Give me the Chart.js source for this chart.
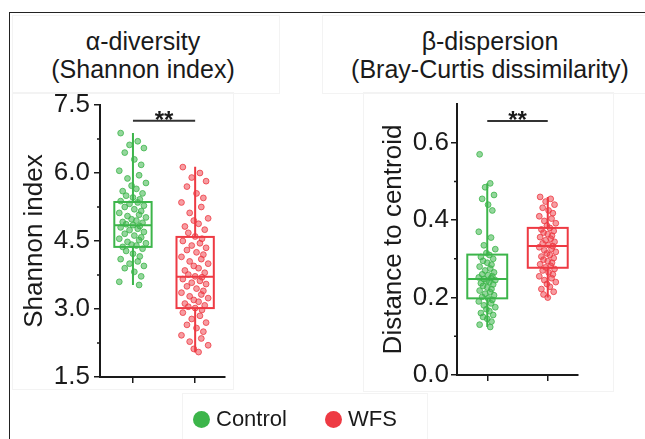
<!DOCTYPE html>
<html>
<head>
<meta charset="utf-8">
<script src="https://cdn.jsdelivr.net/npm/chart.js@4.4.1/dist/chart.umd.min.js"></script>
<style>
  body { margin: 0; background: #fff; font-family: "Liberation Sans", Arial, sans-serif; color: #1a1a1a; }
  #page { position: relative; width: 645px; height: 439px; overflow: hidden; background: #fff; }
  .frame { position: absolute; left: 9px; top: 12px; right: -2px; bottom: -2px; border-left: 1.5px solid #222; border-top: 1.5px solid #222; }
  .faint { position: absolute; border: 1px solid #f3f3f3; }
  .title { position: absolute; width: 320px; text-align: center; font-size: 25px; line-height: 28px; color: #1a1a1a; }
  canvas { position: absolute; left: 0; top: 0; }
  #legend { position: absolute; top: 406px; left: 193px; font-size: 22px; line-height: 26px; color: #1a1a1a; }
  #legend span.item { display: inline-block; margin-right: 38px; }
  #legend span.dot { display: inline-block; width: 17px; height: 17px; border-radius: 50%; vertical-align: -2px; margin-right: 6px; }
</style>
</head>
<body>
<div id="page">
  <div class="frame"></div>
  <div class="faint" style="left:12px;top:15px;width:266px;height:77px"></div>
  <div class="faint" style="left:12px;top:92px;width:220px;height:296px"></div>
  <div class="faint" style="left:322px;top:15px;width:330px;height:77px"></div>
  <div class="faint" style="left:363px;top:92px;width:249px;height:298px"></div>
  <div class="faint" style="left:182px;top:393px;width:244px;height:60px"></div>

  <div class="title" style="left:-17px;top:27px">α-diversity<br>(Shannon index)</div>
  <div class="title" style="left:330px;top:27px">β-dispersion<br>(Bray-Curtis dissimilarity)</div>

  <canvas id="alphaChart" width="645" height="439"></canvas>
  <canvas id="betaChart" width="645" height="439"></canvas>
  <div id="legend"></div>
</div>

<script>
  // Groups and colours
  const GROUPS = ['Control', 'WFS'];
  const GROUP_COLORS = ['#3cb54a', '#ee3a43'];
  const POINT_FILLS = ['rgba(60,181,74,0.55)', 'rgba(238,58,67,0.5)'];

  // Shannon index panel (alpha diversity)
  const SHANNON_TICKS = [1.5, 3.0, 4.5, 6.0, 7.5];
  const SHANNON_MINOR = [2.25, 3.75, 5.25, 6.75];
  const SHANNON_LOW = [3.53, 2.04];
  const SHANNON_Q1 = [4.37, 3.02];
  const SHANNON_MEDIAN = [4.85, 3.71];
  const SHANNON_Q3 = [5.36, 4.59];
  const SHANNON_HIGH = [6.88, 6.14];
  const SHANNON_SIG = 7.15;
  const SHANNON_CONTROL = [6.88, 6.7, 6.62, 6.55, 6.45, 6.3, 6.18, 6.05, 5.95, 5.88, 5.78, 5.72, 5.65, 5.6,
    5.55, 5.5, 5.46, 5.42, 5.38, 5.35, 5.32, 5.28, 5.25, 5.2, 5.16, 5.12, 5.08, 5.05, 5.02, 4.98, 4.95,
    4.92, 4.9, 4.87, 4.85, 4.83, 4.8, 4.77, 4.74, 4.7, 4.66, 4.62, 4.58, 4.55, 4.52, 4.48, 4.45, 4.42,
    4.4, 4.37, 4.33, 4.28, 4.22, 4.16, 4.1, 4.05, 4.0, 3.95, 3.9, 3.82, 3.72, 3.6, 3.53];
  const SHANNON_WFS = [6.13, 6.0, 5.9, 5.82, 5.7, 5.55, 5.45, 5.35, 5.25, 5.12, 5.0, 4.95, 4.88, 4.82,
    4.75, 4.68, 4.6, 4.55, 4.5, 4.45, 4.4, 4.35, 4.3, 4.25, 4.2, 4.15, 4.1, 4.05, 4.0, 3.95, 3.9, 3.85,
    3.8, 3.76, 3.72, 3.7, 3.66, 3.62, 3.58, 3.55, 3.5, 3.45, 3.4, 3.36, 3.32, 3.28, 3.24, 3.2, 3.16,
    3.12, 3.08, 3.05, 3.02, 2.98, 2.92, 2.85, 2.78, 2.7, 2.65, 2.58, 2.5, 2.42, 2.35, 2.28, 2.2, 2.12, 2.05];

  // Distance to centroid panel (beta dispersion)
  const DIST_TICKS = [0.0, 0.2, 0.4, 0.6];
  const DIST_MINOR = [0.1, 0.3, 0.5];
  const DIST_LOW = [0.124, 0.2];
  const DIST_Q1 = [0.198, 0.277];
  const DIST_MEDIAN = [0.248, 0.333];
  const DIST_Q3 = [0.311, 0.38];
  const DIST_HIGH = [0.495, 0.46];
  const DIST_SIG = 0.656;
  const DIST_CONTROL = [0.57, 0.495, 0.485, 0.465, 0.455, 0.44, 0.425, 0.37, 0.355, 0.335, 0.325, 0.315,
    0.31, 0.305, 0.3, 0.295, 0.29, 0.285, 0.28, 0.275, 0.27, 0.265, 0.26, 0.258, 0.255, 0.252, 0.25,
    0.248, 0.245, 0.242, 0.24, 0.237, 0.234, 0.23, 0.226, 0.222, 0.218, 0.214, 0.21, 0.206, 0.202,
    0.198, 0.194, 0.19, 0.185, 0.18, 0.175, 0.17, 0.165, 0.16, 0.155, 0.15, 0.145, 0.138, 0.13, 0.124];
  const DIST_WFS = [0.46, 0.455, 0.448, 0.44, 0.432, 0.425, 0.418, 0.41, 0.404, 0.398, 0.392, 0.386,
    0.38, 0.376, 0.372, 0.368, 0.364, 0.36, 0.356, 0.352, 0.348, 0.344, 0.34, 0.336, 0.333, 0.33,
    0.326, 0.322, 0.318, 0.314, 0.31, 0.306, 0.302, 0.298, 0.294, 0.29, 0.286, 0.282, 0.278, 0.274,
    0.27, 0.265, 0.26, 0.255, 0.25, 0.245, 0.24, 0.235, 0.228, 0.222, 0.215, 0.208, 0.2];

  // Horizontal spread of the dots around each group (a fixed pattern, not data)
  const JITTER = [-0.18, 0.07, -0.05, 0.16, -0.12, 0.02, 0.12, -0.2, 0.09, -0.08, 0.19, -0.02, 0.05, -0.15, 0.14, -0.1, 0.0, 0.1];

  const FONT = '"Liberation Sans", Arial, sans-serif';
  const AXIS_COLOR = '#1a1a1a';

  // Turn a list of values into scatter points for group index i
  function toPoints(values, i, spread) {
    return values.map(function (v, k) {
      return { x: i + 1 + JITTER[k % JITTER.length] * spread, y: v };
    });
  }

  // Draws boxes, whiskers, minor ticks and the significance bar
  const boxPlugin = {
    id: 'boxes',
    beforeDatasetsDraw(chart, args, opts) {
      const ctx = chart.ctx;
      const x = chart.scales.x;
      const y = chart.scales.y;
      ctx.save();
      ctx.lineWidth = 2;
      GROUPS.forEach(function (g, i) {
        const cx = x.getPixelForValue(i + 1);
        const half = (x.getPixelForValue(i + 1 + opts.width / 2) - cx);
        ctx.strokeStyle = GROUP_COLORS[i];
        const top = y.getPixelForValue(opts.q3[i]);
        const bot = y.getPixelForValue(opts.q1[i]);
        ctx.strokeRect(cx - half, top, half * 2, bot - top);
        ctx.beginPath();
        const med = y.getPixelForValue(opts.median[i]);
        ctx.moveTo(cx - half, med);
        ctx.lineTo(cx + half, med);
        ctx.moveTo(cx, top);
        ctx.lineTo(cx, y.getPixelForValue(opts.high[i]));
        ctx.moveTo(cx, bot);
        ctx.lineTo(cx, y.getPixelForValue(opts.low[i]));
        ctx.stroke();
      });

      // minor ticks on the y axis
      ctx.strokeStyle = AXIS_COLOR;
      ctx.lineWidth = 1.5;
      ctx.beginPath();
      opts.minor.forEach(function (v) {
        const py = y.getPixelForValue(v);
        ctx.moveTo(chart.chartArea.left - 3, py);
        ctx.lineTo(chart.chartArea.left, py);
      });
      ctx.stroke();

      // significance bar
      const sy = y.getPixelForValue(opts.sig);
      const x1 = x.getPixelForValue(1);
      const x2 = x.getPixelForValue(2);
      ctx.lineWidth = 2;
      ctx.strokeStyle = '#333';
      ctx.beginPath();
      ctx.moveTo(x1, sy);
      ctx.lineTo(x2, sy);
      ctx.stroke();
      ctx.fillStyle = '#1a1a1a';
      ctx.font = 'bold 24px ' + FONT;
      ctx.textAlign = 'center';
      ctx.textBaseline = 'alphabetic';
      ctx.fillText('**', (x1 + x2) / 2, sy + 7);
      ctx.restore();
    }
  };

  // Build one panel
  function makePanel(id, p) {
    const datasets = GROUPS.map(function (g, i) {
      return {
        label: g,
        data: toPoints(p.series[i], i, p.spread),
        backgroundColor: POINT_FILLS[i],
        borderColor: GROUP_COLORS[i],
        borderWidth: 0.8,
        pointRadius: 2.9
      };
    });

    return new Chart(document.getElementById(id), {
      type: 'scatter',
      data: { datasets: datasets },
      options: {
        responsive: false,
        animation: false,
        layout: { padding: p.padding },
        plugins: {
          legend: { display: false },
          tooltip: { enabled: false },
          boxes: {
            width: p.boxWidth, low: p.low, q1: p.q1, median: p.median, q3: p.q3, high: p.high,
            minor: p.minor, sig: p.sig
          }
        },
        scales: {
          x: {
            type: 'linear',
            min: p.xMin,
            max: p.xMax,
            afterBuildTicks: function (s) { s.ticks = [{ value: 1 }, { value: 2 }]; },
            afterFit: function (s) { s.height = 10; },
            ticks: { display: false },
            grid: { drawOnChartArea: false, tickLength: 6, color: AXIS_COLOR, lineWidth: 1.5 },
            border: { color: AXIS_COLOR, width: 2 }
          },
          y: {
            min: p.ticks[0],
            max: p.yMax,
            afterBuildTicks: function (s) { s.ticks = p.ticks.map(function (v) { return { value: v }; }); },
            afterFit: function (s) { s.width = p.axisWidth; },
            ticks: {
              color: AXIS_COLOR,
              padding: p.tickPad,
              font: { family: FONT, size: 26 },
              callback: function (v) { return v.toFixed(1); }
            },
            grid: { drawOnChartArea: false, tickLength: 6, color: AXIS_COLOR, lineWidth: 1.5 },
            border: { color: AXIS_COLOR, width: 2 },
            title: {
              display: true,
              text: p.title,
              color: AXIS_COLOR,
              font: { family: FONT, size: 26 },
              padding: { top: 4, bottom: 0 }
            }
          }
        }
      },
      plugins: [boxPlugin]
    });
  }

  makePanel('alphaChart', {
    series: [SHANNON_CONTROL, SHANNON_WFS],
    ticks: SHANNON_TICKS, minor: SHANNON_MINOR, yMax: 7.5,
    low: SHANNON_LOW, q1: SHANNON_Q1, median: SHANNON_MEDIAN, q3: SHANNON_Q3, high: SHANNON_HIGH,
    sig: SHANNON_SIG, title: 'Shannon index',
    xMin: 0.47, xMax: 2.48, boxWidth: 0.6, spread: 1.1,
    axisWidth: 85, tickPad: 4,
    padding: { left: 15, top: 105, right: 420, bottom: 52 }
  });

  makePanel('betaChart', {
    series: [DIST_CONTROL, DIST_WFS],
    ticks: DIST_TICKS, minor: DIST_MINOR, yMax: 0.7,
    low: DIST_LOW, q1: DIST_Q1, median: DIST_MEDIAN, q3: DIST_Q3, high: DIST_HIGH,
    sig: DIST_SIG, title: 'Distance to centroid',
    xMin: 0.5, xMax: 2.5, boxWidth: 0.66, spread: 0.7,
    axisWidth: 83, tickPad: 2,
    padding: { left: 374, top: 104, right: 67, bottom: 54 }
  });

  // Legend built from the same groups
  const legend = document.getElementById('legend');
  GROUPS.forEach(function (g, i) {
    const item = document.createElement('span');
    item.className = 'item';
    item.innerHTML = '<span class="dot" style="background:' + GROUP_COLORS[i] + '"></span>' + g;
    legend.appendChild(item);
  });
</script>
</body>
</html>
